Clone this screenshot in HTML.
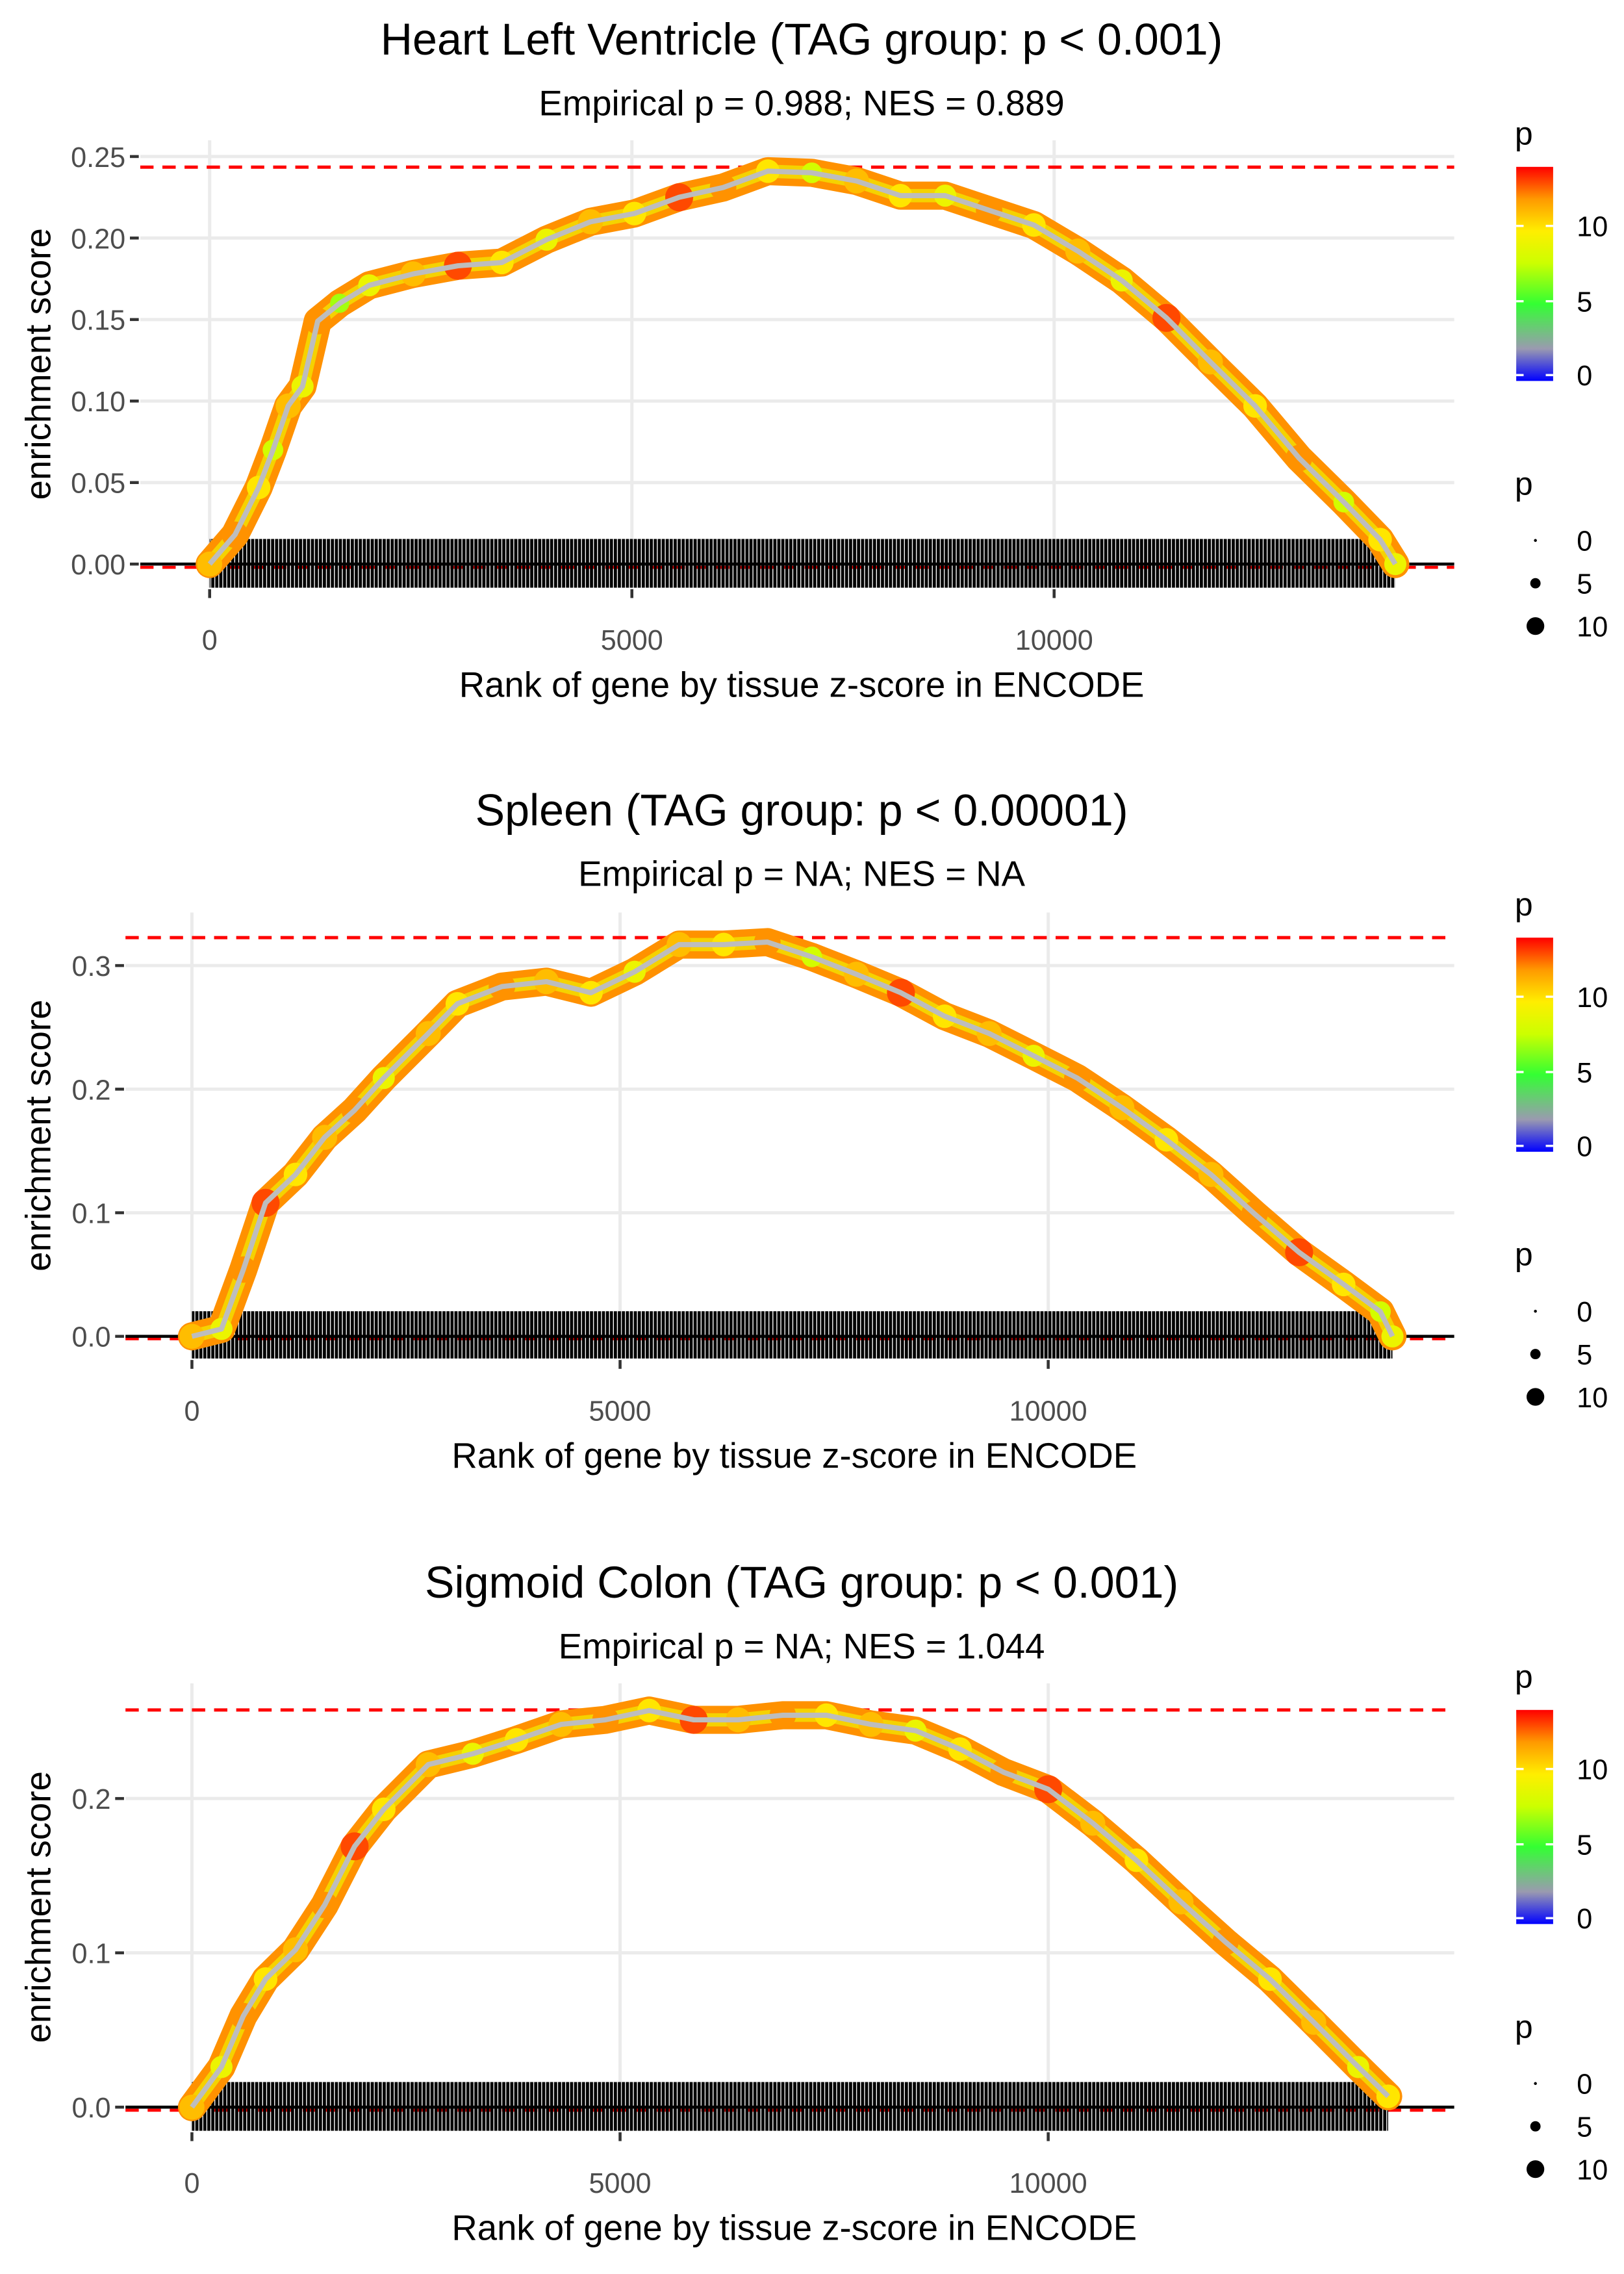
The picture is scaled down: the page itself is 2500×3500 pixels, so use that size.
<!DOCTYPE html>
<html><head><meta charset="utf-8"><style>
html,body{margin:0;padding:0;background:#fff}
svg{display:block;font-family:"Liberation Sans",sans-serif}
</style></head><body>
<svg id="fig" width="2500" height="3500" viewBox="0 0 1100 1540" xmlns="http://www.w3.org/2000/svg">
<defs>
<linearGradient id="pgrad" x1="0" y1="1" x2="0" y2="0">
<stop offset="0" stop-color="#0000ff"/><stop offset="0.15" stop-color="#9a9ab0"/><stop offset="0.36" stop-color="#33ff33"/><stop offset="0.55" stop-color="#ccff00"/><stop offset="0.7" stop-color="#ffee00"/><stop offset="0.85" stop-color="#ff9900"/><stop offset="1" stop-color="#ff0000"/>
</linearGradient>
<pattern id="rug" width="2.7" height="10" patternUnits="userSpaceOnUse"><rect width="2.1" height="10" fill="#000"/></pattern>
</defs>
</svg>
<script>
const ranks1=[0,300,580,750,930,1100,1280,1540,1890,2410,2940,3460,3990,4510,5030,5560,6080,6610,7130,7660,8180,8710,9230,9760,10280,10800,11330,11850,12380,12900,13430,13860,14040];
const es1=[0,0.018,0.047,0.07,0.097,0.109,0.149,0.16,0.171,0.178,0.183,0.185,0.199,0.21,0.215,0.225,0.231,0.241,0.24,0.235,0.226,0.226,0.217,0.208,0.192,0.174,0.151,0.124,0.097,0.065,0.038,0.015,0];
const p1=[11,12,10,8,11,9,12,7,9,11,13,10,9,11,10,13,12,10,8,11,10,9,12,10,11,9,13,11,10,12,8,10,9];
const ranks2=[0,345,600,860,1210,1550,1900,2240,2760,3100,3620,4140,4660,5170,5690,6210,6720,7240,7760,8280,8790,9310,9830,10340,10860,11380,11900,12410,12930,13450,13880,14020];
const es2=[0,0.006,0.054,0.108,0.131,0.161,0.183,0.209,0.245,0.269,0.283,0.287,0.278,0.295,0.317,0.317,0.319,0.307,0.293,0.278,0.259,0.245,0.227,0.209,0.185,0.159,0.131,0.099,0.068,0.042,0.02,0];
const p2=[11,9,12,13,10,11,12,9,11,10,12,11,10,9,11,10,12,8,11,13,10,11,9,12,11,10,11,12,13,10,8,9];
const ranks3=[0,345,600,860,1210,1550,1900,2240,2760,3280,3790,4310,4830,5340,5860,6380,6900,7410,7930,8450,8970,9480,10000,10520,11030,11550,12070,12590,13100,13620,13970];
const es3=[0,0.026,0.059,0.083,0.102,0.131,0.169,0.193,0.222,0.229,0.238,0.248,0.251,0.257,0.251,0.251,0.254,0.254,0.248,0.244,0.232,0.217,0.206,0.184,0.16,0.133,0.107,0.083,0.055,0.026,0.007];
const p3=[11,9,12,10,11,12,13,10,11,9,10,11,12,10,13,11,12,10,11,9,10,12,13,11,10,11,12,10,11,9,10];
const yTicks1=[0,0.05,0.1,0.15,0.2,0.25];
const yTicks2=[0,0.1,0.2,0.3];
const yTicks3=[0,0.1,0.2];
const xTicks=[0,5000,10000];
const titles=["Heart Left Ventricle (TAG group: p < 0.001)","Spleen (TAG group: p < 0.00001)","Sigmoid Colon (TAG group: p < 0.001)"];
const subtitles=["Empirical p = 0.988; NES = 0.889","Empirical p = NA; NES = NA","Empirical p = NA; NES = 1.044"];
const esMax=[0.2435,0.3226,0.2574];
const yLabelsFmt=[2,1,1];

const NS="http://www.w3.org/2000/svg";
const svg=document.getElementById('fig');
function mk(tag,attrs,parent,text){const e=document.createElementNS(NS,tag);for(const k in attrs)e.setAttribute(k,attrs[k]);if(text!==undefined)e.textContent=text;(parent||svg).appendChild(e);return e;}
function pcol(p){const stops=[[0,[0,0,255]],[2,[154,154,176]],[5,[51,255,51]],[7.7,[204,255,0]],[9.8,[255,238,0]],[11.9,[255,153,0]],[14,[255,0,0]]];
 p=Math.max(0,Math.min(14,p));for(let i=1;i<stops.length;i++){if(p<=stops[i][0]){const a=stops[i-1],b=stops[i],t=(p-a[0])/(b[0]-a[0]);const c=a[1].map((v,j)=>Math.round(v+(b[1][j]-v)*t));return `rgb(${c})`;}}return 'red';}

const panels=[
 {ranks:ranks1,es:es1,p:p1,yt:yTicks1,left:95,right:985,top:95,bottom:398,x0:142,xpx:286/5000,y0:382,ypx:1104,off:0},
 {ranks:ranks2,es:es2,p:p2,yt:yTicks2,left:85,right:985,top:618,bottom:920,x0:130,xpx:290/5000,y0:905,ypx:837,off:522},
 {ranks:ranks3,es:es3,p:p3,yt:yTicks3,left:85,right:985,top:1140,bottom:1443,x0:130,xpx:290/5000,y0:1427,ypx:1045,off:1045}
];
panels.forEach((P,i)=>{
 const g=mk('g',{});
 
 
 const X=r=>P.x0+r*P.xpx, Y=v=>P.y0-v*P.ypx;
 const t=mk('text',{x:543,y:37+P.off,'text-anchor':'middle','font-size':30},g,titles[i]);
 
 
 const s=mk('text',{x:543,y:78+P.off,'text-anchor':'middle','font-size':24},g,subtitles[i]);
 
 
 P.yt.forEach(v=>{
  const l=mk('line',{x1:P.left,x2:P.right,y1:Y(v),y2:Y(v),stroke:'#ebebeb','stroke-width':2.2},g);
  
  
  mk('line',{x1:P.left-7,x2:P.left-1,y1:Y(v),y2:Y(v),stroke:'#333','stroke-width':2},g);
  const tl=mk('text',{x:P.left-10,y:Y(v)+7,'text-anchor':'end','font-size':19,fill:'#4d4d4d'},g,v.toFixed(yLabelsFmt[i]));
  
  
 });
 xTicks.forEach(v=>{
  const l=mk('line',{x1:X(v),x2:X(v),y1:P.top,y2:P.bottom,stroke:'#ebebeb','stroke-width':2.2},g);
  
  
  mk('line',{x1:X(v),x2:X(v),y1:P.bottom+1,y2:P.bottom+7,stroke:'#333','stroke-width':2},g);
  const tl=mk('text',{x:X(v),y:P.bottom+42,'text-anchor':'middle','font-size':19,fill:'#4d4d4d'},g,String(v));
  
  
 });
 const ya=mk('text',{x:0,y:0,'text-anchor':'middle','font-size':24,transform:`translate(34,${(P.top+P.bottom)/2}) rotate(-90)`},g,'enrichment score');
 
 
 const xa=mk('text',{x:(i==0?543:538),y:P.bottom+74,'text-anchor':'middle','font-size':24},g,'Rank of gene by tissue z-score in ENCODE');
 
 
 const dm=mk('line',{x1:P.left,x2:P.right,y1:Y(esMax[i]),y2:Y(esMax[i]),stroke:'#ff0000','stroke-width':2.2,'stroke-dasharray':'9 6'},g);
 
 
 mk('line',{x1:P.left,x2:P.right,y1:Y(-0.002),y2:Y(-0.002),stroke:'#ff0000','stroke-width':2,'stroke-dasharray':'9 6'},g);
 const rmax=P.ranks[P.ranks.length-1];
 const rug=mk('rect',{x:X(0),y:P.y0-17,width:X(rmax)-X(0),height:P.bottom-P.y0+17,fill:'url(#rug)'},g);
 
 
 mk('line',{x1:P.left,x2:P.right,y1:P.y0,y2:P.y0,stroke:'#000','stroke-width':2},g);
 const d=P.ranks.map((r,k)=>(k?'L':'M')+X(r).toFixed(1)+','+Y(P.es[k]).toFixed(1)).join(' ');
 const band=mk('path',{d:d,fill:'none',stroke:'#ff9100','stroke-width':19,'stroke-linejoin':'round','stroke-linecap':'round'},g);
 
 
 mk('path',{d:d,fill:'none',stroke:'#f2e800','stroke-width':9,'stroke-linejoin':'round','stroke-opacity':0.75},g);
 P.ranks.forEach((r,k)=>{
  const c=mk('circle',{cx:X(r),cy:Y(P.es[k]),r:3+P.p[k]*0.5,fill:pcol(P.p[k])},g);
  
  
 });
 const ln=mk('path',{d:d,fill:'none',stroke:'#bdbdbd','stroke-width':3.5,'stroke-linejoin':'round'},g);
 
 
 const o=P.off;
 mk('text',{x:1026,y:98+o,'font-size':22},g,'p');
 const cb=mk('rect',{x:1027,y:113+o,width:25,height:145,fill:'url(#pgrad)'},g);
 
 
 [[10,153],[5,204],[0,254]].forEach(([v,yy])=>{
  mk('line',{x1:1027,x2:1032,y1:yy+o,y2:yy+o,stroke:'#fff','stroke-width':1.5},g);
  mk('line',{x1:1047,x2:1052,y1:yy+o,y2:yy+o,stroke:'#fff','stroke-width':1.5},g);
  mk('text',{x:1068,y:yy+7+o,'font-size':19},g,String(v));
 });
 mk('text',{x:1026,y:335+o,'font-size':22},g,'p');
 [[0,366,1],[5,395,3.5],[10,424,6]].forEach(([v,yy,rr])=>{
  const c=mk('circle',{cx:1040,cy:yy+o,r:rr,fill:'#000'},g);
  
  
  mk('text',{x:1068,y:yy+7+o,'font-size':19},g,String(v));
 });
});
</script>
</body></html>
